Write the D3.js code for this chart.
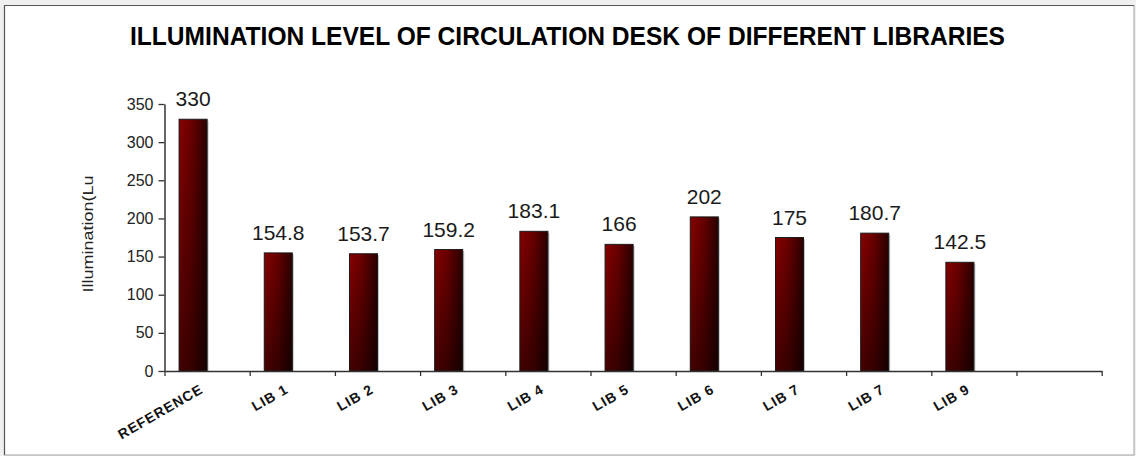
<!DOCTYPE html>
<html>
<head>
<meta charset="utf-8">
<script src="https://cdn.jsdelivr.net/npm/d3@7"></script>
<style>
  html, body { margin: 0; padding: 0; background: #f0f0f0; }
  svg { display: block; font-family: Arial, "Liberation Sans", sans-serif; }
</style>
</head>
<body>
<svg id="chart" width="1136" height="456"></svg>
<script>
// ---- data ----
const categories = ["REFERENCE", "LIB 1", "LIB 2", "LIB 3", "LIB 4", "LIB 5", "LIB 6", "LIB 7", "LIB 7", "LIB 9", ""];
const illumination = [330, 154.8, 153.7, 159.2, 183.1, 166, 202, 175, 180.7, 142.5, null];
const seriesNames = ["Illumination", "(blank)"];
const yTicks = [0, 50, 100, 150, 200, 250, 300, 350];
const titleText = "ILLUMINATION LEVEL OF CIRCULATION DESK OF DIFFERENT LIBRARIES";
const yTitle = "Illumination(Lu";

(function () {
// ---- layout ----
const svg = d3.select("#chart");
const plotLeft = 164.5, plotRight = 1101.7, plotTop = 104, plotBottom = 371;

// frame
svg.append("rect").attr("x", 4.5).attr("y", 5.5).attr("width", 1129.5).attr("height", 449.5)
  .attr("fill", "#fff").attr("stroke", "#a0a0a0").attr("stroke-width", 1);
svg.append("path").attr("d", "M4.5,455 V5.5 H1134").attr("fill", "none")
  .attr("stroke", "#555").attr("stroke-width", 1.2);

// defs gradients
const defs = svg.append("defs");
const gH = defs.append("linearGradient").attr("id", "barH").attr("x1", 0).attr("x2", 1).attr("y1", 0).attr("y2", 0);
gH.append("stop").attr("offset", "0%").attr("stop-color", "#860000");
gH.append("stop").attr("offset", "45%").attr("stop-color", "#6a0000");
gH.append("stop").attr("offset", "100%").attr("stop-color", "#2a0000");
const gV = defs.append("linearGradient").attr("id", "barV").attr("x1", 0).attr("x2", 0).attr("y1", 0).attr("y2", 1);
gV.append("stop").attr("offset", "0%").attr("stop-color", "#000").attr("stop-opacity", 0);
gV.append("stop").attr("offset", "100%").attr("stop-color", "#000").attr("stop-opacity", 0.5);

// scales
const x = d3.scaleBand().domain(d3.range(categories.length)).range([plotLeft, plotRight]).paddingInner(0).paddingOuter(0);
const xs = d3.scaleBand().domain(seriesNames).range([0, x.bandwidth()]).paddingInner(0).paddingOuter(0.52);
const xTick = d3.scaleLinear().domain([0, categories.length]).range([plotLeft, plotRight]);
const y = d3.scaleLinear().domain([0, 350]).range([plotBottom, plotTop]);

// title
svg.append("text").attr("x", 567.5).attr("y", 45).attr("text-anchor", "middle")
  .attr("font-size", 25).attr("font-weight", "bold").attr("fill", "#000")
  .attr("textLength", 875).attr("lengthAdjust", "spacingAndGlyphs")
  .text(titleText);

// y title
svg.append("text").attr("transform", "translate(93,234) rotate(-90)")
  .attr("text-anchor", "middle").attr("font-size", 14).attr("fill", "#222")
  .attr("textLength", 117).attr("lengthAdjust", "spacingAndGlyphs")
  .text(yTitle);

// bars
const data = illumination.map((v, i) => ({ i, v })).filter(d => d.v != null);
const bw = xs.bandwidth();
const bx = d => x(d.i) + xs(seriesNames[0]);

svg.append("g").selectAll("rect").data(data).join("rect")
  .attr("x", d => bx(d) + 1.5).attr("y", d => y(d.v) + 1.5)
  .attr("width", bw).attr("height", d => plotBottom - y(d.v) - 1.5)
  .attr("fill", "#9a9a9a").attr("opacity", 0.6);

const bars = svg.append("g");
bars.selectAll("rect.h").data(data).join("rect").attr("class", "h")
  .attr("x", bx).attr("y", d => y(d.v)).attr("width", bw).attr("height", d => plotBottom - y(d.v))
  .attr("fill", "url(#barH)");
bars.selectAll("rect.v").data(data).join("rect").attr("class", "v")
  .attr("x", bx).attr("y", d => y(d.v)).attr("width", bw).attr("height", d => plotBottom - y(d.v))
  .attr("fill", "url(#barV)").attr("stroke", "#1a1a1a").attr("stroke-width", 1);

// value labels
svg.append("g").selectAll("text").data(data).join("text")
  .attr("x", d => bx(d) + bw / 2).attr("y", d => y(d.v) - 13)
  .attr("text-anchor", "middle").attr("font-size", 21).attr("fill", "#1a1a1a")
  .text(d => d3.format("")(d.v));

// y axis
const yAxis = svg.append("g").attr("transform", `translate(${plotLeft},0)`)
  .call(d3.axisLeft(y).tickValues(yTicks).tickSize(6).tickSizeOuter(0).tickPadding(5).tickFormat(d3.format("d")));
yAxis.select(".domain").attr("stroke", "#333").attr("stroke-width", 1.5);
yAxis.selectAll(".tick line").attr("stroke", "#333").attr("stroke-width", 1.3);
yAxis.selectAll(".tick text").attr("font-size", 16).attr("fill", "#222").attr("font-family", "Arial, 'Liberation Sans', sans-serif");

// x axis
const xAxis = svg.append("g").attr("transform", `translate(0,${plotBottom})`)
  .call(d3.axisBottom(xTick).tickValues(d3.range(categories.length + 1)).tickSize(5).tickSizeOuter(0).tickFormat(""));
xAxis.select(".domain").attr("stroke", "#333").attr("stroke-width", 1.5);
xAxis.selectAll(".tick line").attr("stroke", "#333").attr("stroke-width", 1.3);

// x labels
svg.append("g").selectAll("text").data(categories.map((c, i) => ({ c, i })).filter(d => d.c !== "")).join("text")
  .attr("transform", d => `translate(${x(d.i) + x.bandwidth() / 2 - 3},${plotBottom + 21}) rotate(-30)`)
  .attr("text-anchor", "end").attr("font-size", 14).attr("font-weight", "bold")
  .attr("letter-spacing", 1).attr("fill", "#111")
  .text(d => d.c);
})();
</script>
</body>
</html>
